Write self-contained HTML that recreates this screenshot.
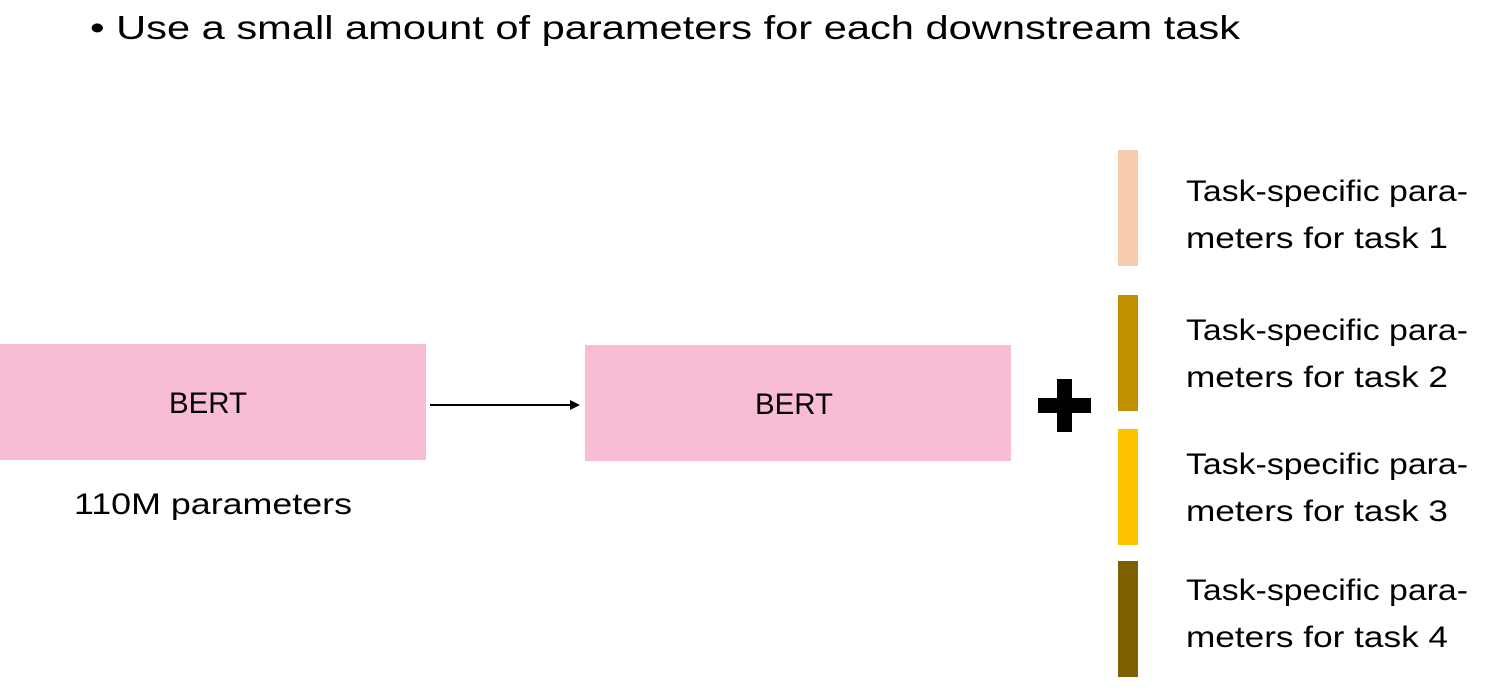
<!DOCTYPE html>
<html><head><meta charset="utf-8"><style>
html,body{margin:0;padding:0;background:#fff;width:1485px;height:698px;overflow:hidden}
text{font-family:"Liberation Sans",sans-serif;fill:#000}
</style></head><body>
<svg width="1485" height="698" viewBox="0 0 1485 698">
<text x="90" y="39" font-size="33" textLength="1150" lengthAdjust="spacingAndGlyphs">• Use a small amount of parameters  for each downstream task</text>
<rect x="0" y="344" width="426" height="116" fill="#F9BCD5"/>
<text x="208" y="413" font-size="30" text-anchor="middle" textLength="78" lengthAdjust="spacingAndGlyphs">BERT</text>
<text x="74" y="514" font-size="30" textLength="278" lengthAdjust="spacingAndGlyphs">110M parameters</text>
<line x1="430" y1="405" x2="572" y2="405" stroke="#000" stroke-width="2"/>
<polygon points="580,405 570,400 570,410" fill="#000"/>
<rect x="585" y="345" width="426" height="116" fill="#F9BCD5"/>
<text x="794" y="414" font-size="30" text-anchor="middle" textLength="78" lengthAdjust="spacingAndGlyphs">BERT</text>
<rect x="1038" y="398" width="53" height="15" fill="#000"/>
<rect x="1057" y="379" width="15" height="53" fill="#000"/>
<rect x="1118" y="150" width="20" height="116" fill="#F8CBAD"/>
<rect x="1118" y="295" width="20" height="116" fill="#BF9000"/>
<rect x="1118" y="429" width="20" height="116" fill="#FFC000"/>
<rect x="1118" y="561" width="20" height="116" fill="#7F6000"/>
<g font-size="30">
<text x="1186" y="201" textLength="282" lengthAdjust="spacingAndGlyphs">Task-specific para-</text>
<text x="1186" y="248" textLength="262" lengthAdjust="spacingAndGlyphs">meters for task 1</text>
<text x="1186" y="340" textLength="282" lengthAdjust="spacingAndGlyphs">Task-specific para-</text>
<text x="1186" y="387" textLength="262" lengthAdjust="spacingAndGlyphs">meters for task 2</text>
<text x="1186" y="474" textLength="282" lengthAdjust="spacingAndGlyphs">Task-specific para-</text>
<text x="1186" y="521" textLength="262" lengthAdjust="spacingAndGlyphs">meters for task 3</text>
<text x="1186" y="600" textLength="282" lengthAdjust="spacingAndGlyphs">Task-specific para-</text>
<text x="1186" y="647" textLength="262" lengthAdjust="spacingAndGlyphs">meters for task 4</text>
</g>
</svg>
</body></html>
